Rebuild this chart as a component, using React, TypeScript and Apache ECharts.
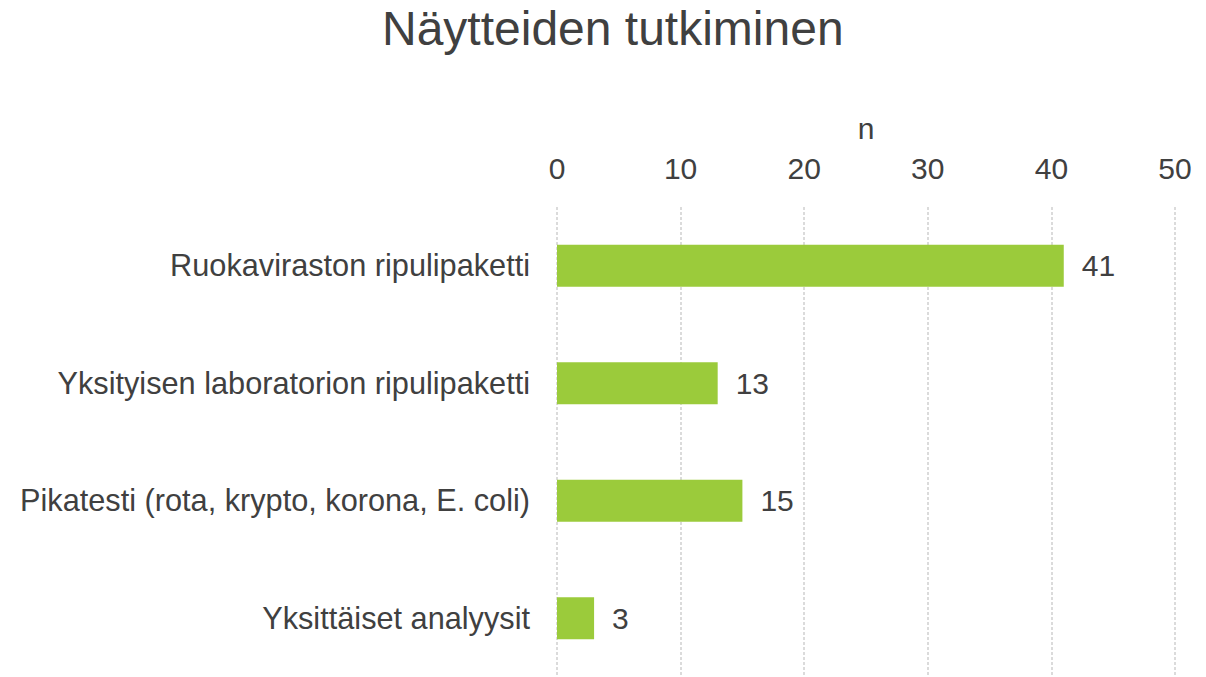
import React, { useEffect, useRef } from "react";
import * as echarts from "echarts";

const categories = [
  "Ruokaviraston ripulipaketti",
  "Yksityisen laboratorion ripulipaketti",
  "Pikatesti (rota, krypto, korona, E. coli)",
  "Yksittäiset analyysit",
];
const values = [41, 13, 15, 3];
const axisMin = 0;
const axisMax = 50;
const axisInterval = 10;

export default function App() {
  const ref = useRef<HTMLDivElement>(null);
  useEffect(() => {
    document.body.style.margin = "0";
    const chart = echarts.init(ref.current!, null, { renderer: "svg" });
    const font = "'Liberation Sans', Arial, sans-serif";
    chart.setOption({
      animation: false,
      backgroundColor: "#ffffff",
      title: {
        text: "Näytteiden tutkiminen",
        left: 377,
        top: -1,
        textStyle: { fontFamily: font, fontSize: 48, fontWeight: "normal", color: "#404040" },
      },
      grid: { left: 557, right: 31, top: 207, bottom: 0, containLabel: false },
      xAxis: {
        type: "value",
        position: "top",
        min: axisMin,
        max: axisMax,
        interval: axisInterval,
        name: "n",
        nameLocation: "middle",
        nameGap: 64,
        nameTextStyle: { fontFamily: font, fontSize: 30, color: "#404040" },
        axisLine: { show: false },
        axisTick: { show: false },
        axisLabel: { fontFamily: font, fontSize: 30, color: "#404040", margin: 24 },
        splitLine: { show: true, lineStyle: { color: "#d0d0d0", type: [3, 2], width: 1.5 } },
      },
      yAxis: {
        type: "category",
        inverse: true,
        data: categories,
        axisLine: { show: false },
        axisTick: { show: false },
        axisLabel: { fontFamily: font, fontSize: 30.7, color: "#404040", margin: 27 },
      },
      series: [
        {
          type: "bar",
          data: values,
          barWidth: 42,
          itemStyle: { color: "#9BCB3B" },
          label: {
            show: true,
            position: "right",
            distance: 18,
            fontFamily: font,
            fontSize: 30,
            color: "#404040",
          },
        },
      ],
    });
    return () => chart.dispose();
  }, []);
  return <div ref={ref} style={{ width: 1206, height: 677 }} />;
}
